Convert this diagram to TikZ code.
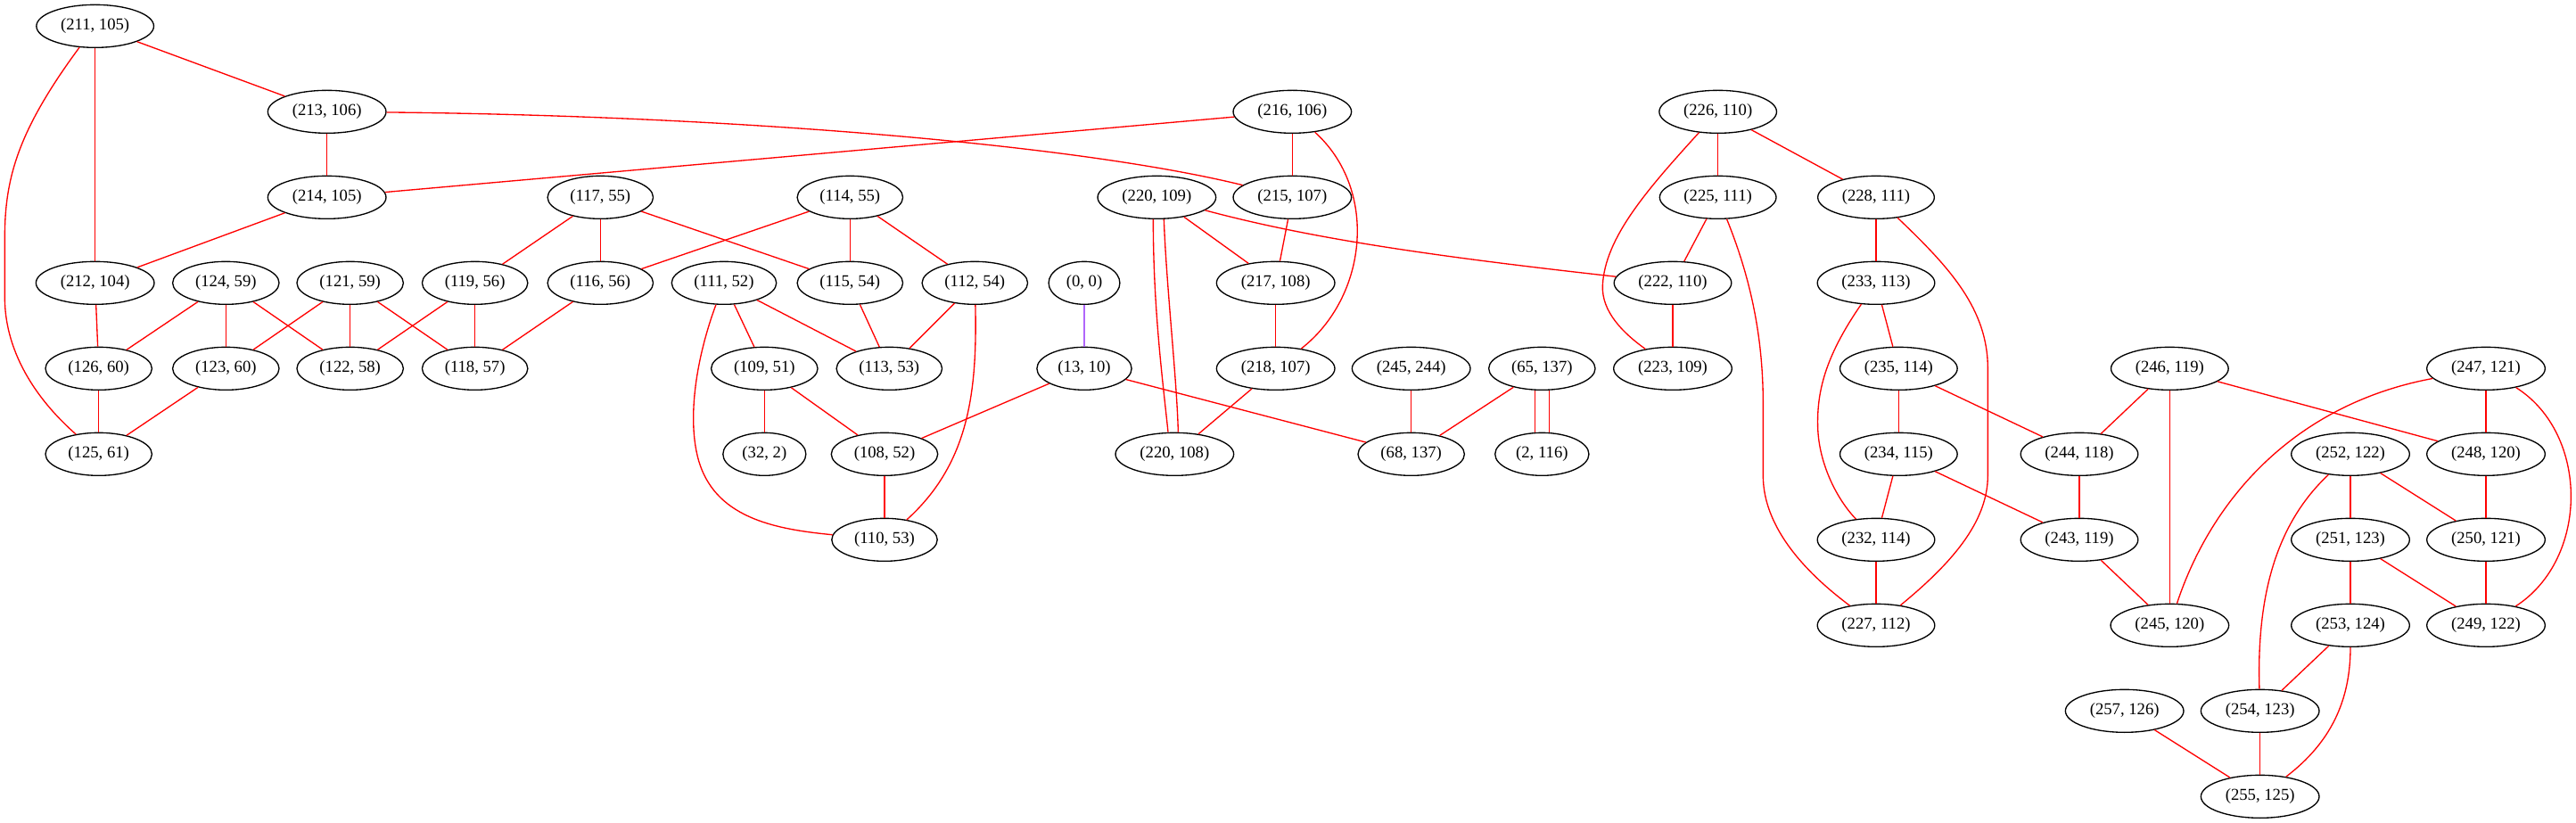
\documentclass[tikz,border=0pt]{standalone}
\usepackage{fontspec}
\setmainfont{Liberation Serif}
\usetikzlibrary{shapes.geometric}
\definecolor{edgered}{rgb}{1,0,0}
\definecolor{lightpurple}{rgb}{0.69,0.40,0.98}

\tikzset{
    vtx/.style={ellipse, draw=black, line width=1pt, minimum height=36pt, inner xsep=6pt, inner ysep=2pt, font=\fontsize{14}{16}\selectfont},
    lnk/.style={draw=edgered, line width=1pt},
}

\begin{document}
\begin{tikzpicture}[x=1pt,y=-1pt]
    \useasboundingbox (0,0) rectangle (2166.75,692);
    % rank 0 and 1
    \node[vtx] (n211-105) at (80,22) {(211, 105)};
    \node[vtx] (n213-106) at (275,94) {(213, 106)};
    \node[vtx] (n216-106) at (1087,94) {(216, 106)};
    \node[vtx] (n226-110) at (1445,94) {(226, 110)};
    % rank 2
    \node[vtx] (n214-105) at (275,166) {(214, 105)};
    \node[vtx] (n117-55) at (505,166) {(117, 55)};
    \node[vtx] (n114-55) at (715,166) {(114, 55)};
    \node[vtx] (n220-109) at (973,166) {(220, 109)};
    \node[vtx] (n215-107) at (1087,166) {(215, 107)};
    \node[vtx] (n225-111) at (1445,166) {(225, 111)};
    \node[vtx] (n228-111) at (1578,166) {(228, 111)};
    % rank 3
    \node[vtx] (n212-104) at (80,238) {(212, 104)};
    \node[vtx] (n124-59) at (190,238) {(124, 59)};
    \node[vtx] (n121-59) at (294.5,238) {(121, 59)};
    \node[vtx] (n119-56) at (399.5,238) {(119, 56)};
    \node[vtx] (n116-56) at (505,238) {(116, 56)};
    \node[vtx] (n111-52) at (609,238) {(111, 52)};
    \node[vtx] (n115-54) at (715,238) {(115, 54)};
    \node[vtx] (n112-54) at (820,238) {(112, 54)};
    \node[vtx] (n0-0) at (912,238) {(0, 0)};
    \node[vtx] (n217-108) at (1073,238) {(217, 108)};
    \node[vtx] (n222-110) at (1407,238) {(222, 110)};
    \node[vtx] (n233-113) at (1578,238) {(233, 113)};
    % rank 4
    \node[vtx] (n126-60) at (83,310) {(126, 60)};
    \node[vtx] (n123-60) at (190,310) {(123, 60)};
    \node[vtx] (n122-58) at (294.5,310) {(122, 58)};
    \node[vtx] (n118-57) at (399.5,310) {(118, 57)};
    \node[vtx] (n109-51) at (643,310) {(109, 51)};
    \node[vtx] (n113-53) at (748,310) {(113, 53)};
    \node[vtx] (n13-10) at (912,310) {(13, 10)};
    \node[vtx] (n218-107) at (1073,310) {(218, 107)};
    \node[vtx] (n245-244) at (1187,310) {(245, 244)};
    \node[vtx] (n65-137) at (1297,310) {(65, 137)};
    \node[vtx] (n223-109) at (1407,310) {(223, 109)};
    \node[vtx] (n235-114) at (1597,310) {(235, 114)};
    \node[vtx] (n246-119) at (1825,310) {(246, 119)};
    \node[vtx] (n247-121) at (2091,310) {(247, 121)};
    % rank 5
    \node[vtx] (n125-61) at (83,382) {(125, 61)};
    \node[vtx] (n32-2) at (643,382) {(32, 2)};
    \node[vtx] (n108-52) at (744,382) {(108, 52)};
    \node[vtx] (n220-108) at (988,382) {(220, 108)};
    \node[vtx] (n68-137) at (1187,382) {(68, 137)};
    \node[vtx] (n2-116) at (1297,382) {(2, 116)};
    \node[vtx] (n234-115) at (1597,382) {(234, 115)};
    \node[vtx] (n244-118) at (1749,382) {(244, 118)};
    \node[vtx] (n252-122) at (1977,382) {(252, 122)};
    \node[vtx] (n248-120) at (2091,382) {(248, 120)};
    % rank 6 to 9
    \node[vtx] (n110-53) at (744,454) {(110, 53)};
    \node[vtx] (n232-114) at (1578,454) {(232, 114)};
    \node[vtx] (n243-119) at (1749,454) {(243, 119)};
    \node[vtx] (n251-123) at (1977,454) {(251, 123)};
    \node[vtx] (n250-121) at (2091,454) {(250, 121)};
    \node[vtx] (n227-112) at (1578,526) {(227, 112)};
    \node[vtx] (n245-120) at (1825,526) {(245, 120)};
    \node[vtx] (n253-124) at (1977,526) {(253, 124)};
    \node[vtx] (n249-122) at (2091,526) {(249, 122)};
    \node[vtx] (n257-126) at (1787,598) {(257, 126)};
    \node[vtx] (n254-123) at (1901,598) {(254, 123)};
    \node[vtx] (n255-125) at (1901,670) {(255, 125)};

    % left block
    \draw[lnk] (n211-105) -- (n213-106);
    \draw[lnk] (n211-105) -- (n212-104);
    \draw[lnk] (n211-105) .. controls (15,110) and (4,150) .. (4,200) -- (4,250) .. controls (4,300) and (35,340) .. (n125-61);
    \draw[lnk] (n213-106) -- (n214-105);
    \draw[lnk] (n213-106) .. controls (600,97) and (900,120) .. (n215-107);
    \draw[lnk] (n216-106) -- (n214-105);
    \draw[lnk] (n216-106) -- (n215-107);
    \draw[lnk] (n216-106) .. controls (1160,160) and (1150,250) .. (n218-107);
    \draw[lnk] (n214-105) -- (n212-104);
    \draw[lnk] (n212-104) -- (n126-60);
    \draw[lnk] (n124-59) -- (n126-60);
    \draw[lnk] (n124-59) -- (n123-60);
    \draw[lnk] (n124-59) -- (n122-58);
    \draw[lnk] (n121-59) -- (n123-60);
    \draw[lnk] (n121-59) -- (n122-58);
    \draw[lnk] (n121-59) -- (n118-57);
    \draw[lnk] (n119-56) -- (n122-58);
    \draw[lnk] (n119-56) -- (n118-57);
    \draw[lnk] (n116-56) -- (n118-57);
    \draw[lnk] (n117-55) -- (n119-56);
    \draw[lnk] (n117-55) -- (n116-56);
    \draw[lnk] (n117-55) -- (n115-54);
    \draw[lnk] (n126-60) -- (n125-61);
    \draw[lnk] (n123-60) -- (n125-61);

    % middle block
    \draw[lnk] (n114-55) -- (n116-56);
    \draw[lnk] (n114-55) -- (n115-54);
    \draw[lnk] (n114-55) -- (n112-54);
    \draw[lnk] (n111-52) -- (n109-51);
    \draw[lnk] (n111-52) -- (n113-53);
    \draw[lnk] (n111-52) .. controls (586,300) and (578,350) .. (587,385) .. controls (600,435) and (650,445) .. (n110-53);
    \draw[lnk] (n115-54) -- (n113-53);
    \draw[lnk] (n112-54) -- (n113-53);
    \draw[lnk] (n112-54) .. controls (822,330) and (815,390) .. (n110-53);
    \draw[lightpurple, line width=1pt] (n0-0) -- (n13-10);
    \draw[lnk] (n13-10) -- (n108-52);
    \draw[lnk] (n13-10) -- (n68-137);
    \draw[lnk] (n109-51) -- (n32-2);
    \draw[lnk] (n109-51) -- (n108-52);
    \draw[lnk] (n108-52) -- (n110-53);
    \draw[lnk] ([xshift=-3pt]n220-109.south) .. controls (970,260) and (978,320) .. ([xshift=-5.5pt]n220-108.north);
    \draw[lnk] ([xshift=6pt]n220-109.south) .. controls (981,240) and (990,320) .. ([xshift=3pt]n220-108.north);
    \draw[lnk] (n220-109) -- (n217-108);
    \draw[lnk] (n220-109) .. controls (1100,200) and (1200,215) .. (n222-110);
    \draw[lnk] (n215-107) -- (n217-108);
    \draw[lnk] (n217-108) -- (n218-107);
    \draw[lnk] (n218-107) -- (n220-108);
    \draw[lnk] (n245-244) -- (n68-137);
    \draw[lnk] (n65-137) -- (n68-137);
    \draw[lnk] ([xshift=-6pt]n65-137.south) -- ([xshift=-6pt]n2-116.north);
    \draw[lnk] ([xshift=6pt]n65-137.south) -- ([xshift=6pt]n2-116.north);

    % right block
    \draw[lnk] (n226-110) -- (n225-111);
    \draw[lnk] (n226-110) -- (n228-111);
    \draw[lnk] (n226-110) .. controls (1385,160) and (1350,200) .. (1348,240) .. controls (1347,262) and (1365,280) .. (n223-109);
    \draw[lnk] (n225-111) -- (n222-110);
    \draw[lnk] (n225-111) .. controls (1475,240) and (1483,290) .. (1483,340) -- (1483,400) .. controls (1483,450) and (1530,490) .. (n227-112);
    \draw[lnk] (n222-110) -- (n223-109);
    \draw[lnk] (n228-111) -- (n233-113);
    \draw[lnk] (n228-111) .. controls (1640,225) and (1672,260) .. (1672,310) -- (1672,400) .. controls (1672,440) and (1640,475) .. (n227-112);
    \draw[lnk] (n233-113) -- (n235-114);
    \draw[lnk] (n233-113) .. controls (1535,300) and (1528,330) .. (1529,360) .. controls (1530,390) and (1545,420) .. (n232-114);
    \draw[lnk] (n235-114) -- (n234-115);
    \draw[lnk] (n235-114) -- (n244-118);
    \draw[lnk] (n234-115) -- (n232-114);
    \draw[lnk] (n234-115) -- (n243-119);
    \draw[lnk] (n232-114) -- (n227-112);
    \draw[lnk] (n246-119) -- (n244-118);
    \draw[lnk] (n246-119) -- (n245-120);
    \draw[lnk] (n246-119) -- (n248-120);
    \draw[lnk] (n247-121) -- (n248-120);
    \draw[lnk] (n247-121) .. controls (1930,340) and (1860,420) .. (n245-120);
    \draw[lnk] (n247-121) .. controls (2178,365) and (2178,470) .. (n249-122);
    \draw[lnk] (n244-118) -- (n243-119);
    \draw[lnk] (n243-119) -- (n245-120);
    \draw[lnk] (n252-122) -- (n251-123);
    \draw[lnk] (n252-122) -- (n250-121);
    \draw[lnk] (n252-122) .. controls (1915,440) and (1898,500) .. (n254-123);
    \draw[lnk] (n248-120) -- (n250-121);
    \draw[lnk] (n251-123) -- (n253-124);
    \draw[lnk] (n251-123) -- (n249-122);
    \draw[lnk] (n250-121) -- (n249-122);
    \draw[lnk] (n253-124) -- (n254-123);
    \draw[lnk] (n253-124) .. controls (1977,590) and (1960,625) .. (n255-125);
    \draw[lnk] (n257-126) -- (n255-125);
    \draw[lnk] (n254-123) -- (n255-125);
\end{tikzpicture}
\end{document}
